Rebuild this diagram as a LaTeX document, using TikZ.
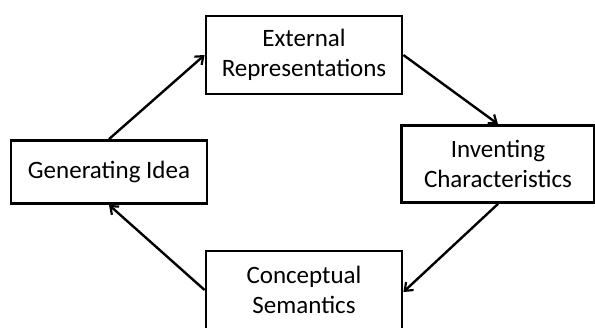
\documentclass[tikz,border=0pt]{standalone}
\usepackage{fontspec}
\setmainfont{Carlito}
\usetikzlibrary{arrows.meta}
\begin{document}
\begin{tikzpicture}[x=1pt,y=-1pt,
  box/.style={draw=black,line width=2.8pt,fill=white,align=center,inner sep=0pt,
    font=\fontsize{25}{29.5}\selectfont},
  conn/.style={line width=2.4pt,-{Straight Barb[length=7pt,width=11pt,line width=2.2pt]}}]
\clip (0,0) rectangle (595,327);
\fill[white] (0,0) rectangle (595,327);
\node[box,minimum width=196pt,minimum height=78pt] (ext) at (304,55) {External\\Representations};
\node[box,minimum width=196pt,minimum height=63pt] (gen) at (109,172) {Generating Idea};
\node[box,minimum width=193pt,minimum height=77pt] (inv) at (498,164) {Inventing\\Characteristics};
\node[box,minimum width=196pt,minimum height=78pt] (con) at (304,290) {Conceptual\\Semantics};
\draw[conn] (gen.north) -- (ext.west);
\draw[conn] (ext.east) -- (inv.north);
\draw[conn] (inv.south) -- ([yshift=-2pt]con.east);
\draw[conn] (con.west) -- (gen.south);
\end{tikzpicture}
\end{document}
